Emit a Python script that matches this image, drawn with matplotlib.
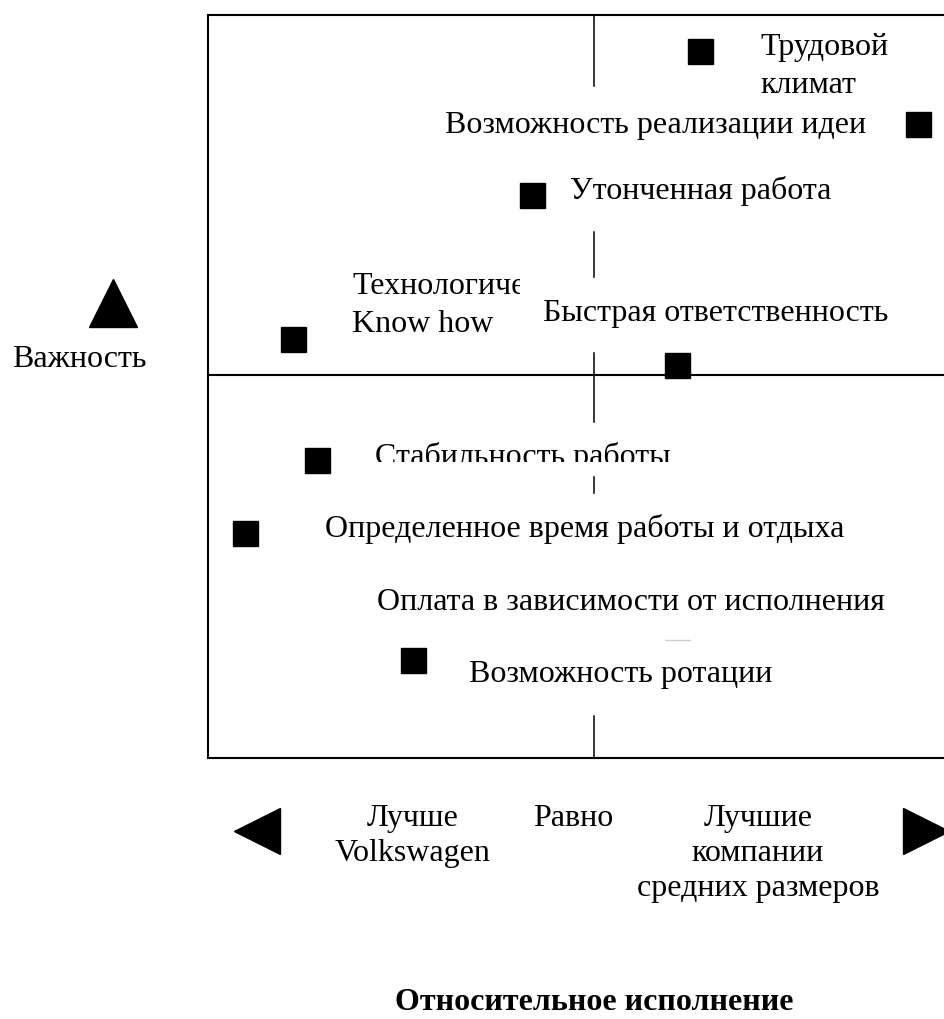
import numpy as np
import matplotlib.pyplot as plt
from matplotlib.patches import Rectangle

plt.rcParams['font.family'] = ['Liberation Serif', 'DejaVu Serif']

# factors, relative performance (-1 = Volkswagen better, +1 = mid-size firms better)
# and importance (-1 .. 1, 0 = middle line)
factors = [
    "Трудовой климат",
    "Возможность реализации идеи",
    "Утонченная работа",
    "Технологическое Know how",
    "Быстрая ответственность",
    "Стабильность работы",
    "Определенное время работы и отдыха",
    "Оплата в зависимости от исполнения",
    "Возможность ротации",
]
performance = [0.275, 0.839, -0.161, -0.780, 0.215, -0.718, -0.904, np.nan, -0.469]
importance = [0.900, 0.697, 0.500, 0.100, 0.028, -0.236, -0.439, np.nan, -0.792]

# how the labels are written on the chart
label_lines = [
    ["Трудовой", "климат"],
    ["Возможность реализации идеи"],
    ["Утонченная работа"],
    ["Технологиче", "Know how"],
    ["Быстрая ответственность"],
    ["Стабильность работы"],
    ["Определенное время работы и отдыха"],
    ["Оплата в зависимости от исполнения"],
    ["Возможность ротации"],
]

x_captions = [["Лучше", "Volkswagen"], ["Равно"], ["Лучшие", "компании", "средних размеров"]]

# label anchors (left, baseline) in data units
label_x = [0.430, -0.386, -0.062, -0.627, -0.132, -0.567, -0.697, -0.562, -0.324]
label_y = [0.889, 0.672, 0.489, 0.225, 0.150, -0.250, -0.450, -0.653, -0.853]

# visible pieces of the broken middle line
centre_pieces = [(1.0, 0.803), (0.397, 0.272), (0.061, -0.131), (-0.283, -0.328), (-0.947, -1.064)]

W, H = 945, 1019
FS = 23

fig = plt.figure(figsize=(W / 100, H / 100), dpi=100)

deco = fig.add_axes([0, 0, 1, 1], zorder=0)
deco.set_xlim(0, W)
deco.set_ylim(H, 0)
deco.axis('off')

left, right, top, bottom = 208, 980, 15, 758
ax = fig.add_axes([left / W, (H - bottom) / H, (right - left) / W, (bottom - top) / H], zorder=1)
ax.set_xlim(-1, 1)
ax.set_ylim(-1.064, 1)
ax.patch.set_alpha(0)
ax.set_xticks([])
ax.set_yticks([])
for side in ['top', 'left', 'bottom']:
    ax.spines[side].set_linewidth(1.5)
ax.spines['right'].set_visible(False)

ax.axhline(0, color='black', lw=1.5)
for y0, y1 in centre_pieces:
    ax.plot([0, 0], [y0, y1], color='black', lw=1.1)
ax.plot([0.184, 0.249], [-0.736, -0.736], color='#cccccc', lw=1)

ax.plot(performance, importance, 's', color='black', ms=18, clip_on=False, zorder=3)


def put_lines(a, x, y, lines, step, **kw):
    out = []
    for i, line in enumerate(lines):
        out.append(a.annotate(line, (x, y), xytext=(0, -i * step), textcoords='offset pixels',
                              va='baseline', fontsize=FS, **kw))
    return out


for lines, x, y in zip(label_lines, label_x, label_y):
    texts = put_lines(ax, x, y, lines, 38, ha='left')
    if lines[0] == "Технологиче":
        texts[0].set_clip_path(Rectangle((-1, -1.1), 0.808, 2.2, transform=ax.transData))
    if lines[0] == "Стабильность работы":
        texts[0].set_clip_path(Rectangle((-1, -0.242), 2, 1.3, transform=ax.transData))

# importance arrow
deco.plot(113, 303, '^', color='black', ms=34.5)
deco.text(12, 367, "Важность", fontsize=FS, va='baseline', ha='left')

# performance arrows and captions
deco.plot(257, 831, '<', color='black', ms=33)
deco.plot(926, 831, '>', color='black', ms=33)
for lines, cx in zip(x_captions, [413, 573, 758]):
    put_lines(deco, cx, 826, lines, 35, ha='center')

deco.text(594, 1010, "Относительное исполнение", fontsize=FS, fontweight='bold',
          ha='center', va='baseline')

fig.savefig("out.png", dpi=100)
